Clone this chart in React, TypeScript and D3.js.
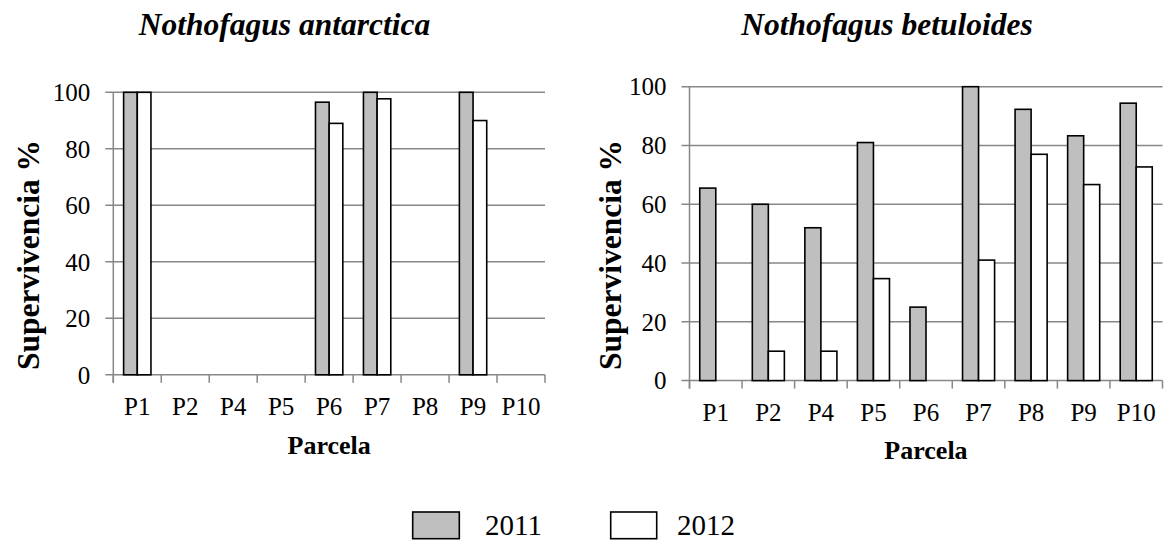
import React from "react";
import * as d3 from "d3";

const categories = ["P1", "P2", "P4", "P5", "P6", "P7", "P8", "P9", "P10"];
const seriesNames = ["2011", "2012"];
const antarctica2011 = [100, 0, 0, 0, 96.5, 100, 0, 100, 0];
const antarctica2012 = [100, 0, 0, 0, 89, 97.7, 0, 90, 0];
const betuloides2011 = [65.5, 60, 52, 81, 25, 100, 92.3, 83.3, 94.4];
const betuloides2012 = [0, 10, 10, 34.7, 0, 41, 77, 66.7, 72.7];
const yTicks = [0, 20, 40, 60, 80, 100];

const FONT = "'Liberation Serif', 'Times New Roman', serif";
const GRAY = "#bfbfbf";
const GRID = "#878787";

type PanelProps = {
  title: string;
  titleX: number;
  s2011: number[];
  s2012: number[];
  x0: number;
  x1: number;
  yTop: number;
  yBottom: number;
  gapFrac: number;
  xLabelBaseline: number;
  parcelaBaseline: number;
  yTitleX: number;
  yTitleY: number;
};

function Panel(p: PanelProps) {
  const x = d3.scaleBand<string>().domain(categories).range([p.x0, p.x1]).paddingInner(0).paddingOuter(0);
  const y = d3.scaleLinear().domain([0, 100]).range([p.yBottom, p.yTop]);
  const bw = x.bandwidth();
  const groupW = bw * (1 - p.gapFrac);
  const xs = d3.scaleBand<string>().domain(seriesNames).range([0, groupW]);
  const data = [p.s2011, p.s2012];
  const boundaries = categories.map((c) => x(c)!).concat([p.x1]);
  return (
    <g>
      <text x={p.titleX} y={35} textAnchor="middle" fontFamily={FONT} fontWeight="bold" fontStyle="italic" fontSize={31.5}>
        {p.title}
      </text>
      {yTicks.map((t) => (
        <g key={t}>
          <line x1={p.x0 - 8} x2={p.x1} y1={y(t)} y2={y(t)} stroke={GRID} strokeWidth={1.5} />
          <text x={p.x0 - 23} y={y(t)} dy="0.35em" textAnchor="end" fontFamily={FONT} fontSize={25}>
            {t}
          </text>
        </g>
      ))}
      <line x1={p.x0} x2={p.x0} y1={y(100)} y2={p.yBottom + 8} stroke={GRID} strokeWidth={1.5} />
      {boundaries.map((b, i) => (
        <line key={i} x1={b} x2={b} y1={p.yBottom} y2={p.yBottom + 8} stroke={GRID} strokeWidth={1.5} />
      ))}
      {categories.map((c, i) => (
        <g key={c}>
          {seriesNames.map((s, k) => {
            const v = data[k][i];
            if (v <= 0) return null;
            const bx = x(c)! + (bw - groupW) / 2 + xs(s)!;
            return (
              <rect
                key={s}
                x={bx}
                y={y(v)}
                width={xs.bandwidth()}
                height={y(0) - y(v)}
                fill={k === 0 ? GRAY : "#ffffff"}
                stroke="#000"
                strokeWidth={1.6}
              />
            );
          })}
          <text x={x(c)! + bw / 2} y={p.xLabelBaseline} textAnchor="middle" fontFamily={FONT} fontSize={25}>
            {c}
          </text>
        </g>
      ))}
      <text x={(p.x0 + p.x1) / 2} y={p.parcelaBaseline} textAnchor="middle" fontFamily={FONT} fontWeight="bold" fontSize={26}>
        Parcela
      </text>
      <text
        transform={`translate(${p.yTitleX},${p.yTitleY}) rotate(-90)`}
        textAnchor="middle"
        fontFamily={FONT}
        fontWeight="bold"
        fontSize={31.5}
      >
        Supervivencia %
      </text>
    </g>
  );
}

export default function App() {
  return (
    <div style={{ position: "absolute", left: 0, top: 0 }}>
      <svg width={1165} height={540} style={{ display: "block", background: "#fff" }}>
        <Panel
          title="Nothofagus antarctica"
          titleX={284.5}
          s2011={antarctica2011}
          s2012={antarctica2012}
          x0={113.3}
          x1={545}
          yTop={92.3}
          yBottom={374.8}
          gapFrac={0.43}
          xLabelBaseline={415}
          parcelaBaseline={454}
          yTitleX={39}
          yTitleY={255}
        />
        <Panel
          title="Nothofagus betuloides"
          titleX={887}
          s2011={betuloides2011}
          s2012={betuloides2012}
          x0={689.5}
          x1={1162.5}
          yTop={86.7}
          yBottom={380.6}
          gapFrac={0.39}
          xLabelBaseline={421}
          parcelaBaseline={459}
          yTitleX={621}
          yTitleY={255}
        />
        <g>
          <rect x={412.7} y={512} width={46.6} height={26.7} fill={GRAY} stroke="#000" strokeWidth={1.6} />
          <text x={485} y={535} fontFamily={FONT} fontSize={29}>2011</text>
          <rect x={610.7} y={512} width={46} height={26.7} fill="#fff" stroke="#000" strokeWidth={1.6} />
          <text x={677} y={535} fontFamily={FONT} fontSize={29}>2012</text>
        </g>
      </svg>
    </div>
  );
}
